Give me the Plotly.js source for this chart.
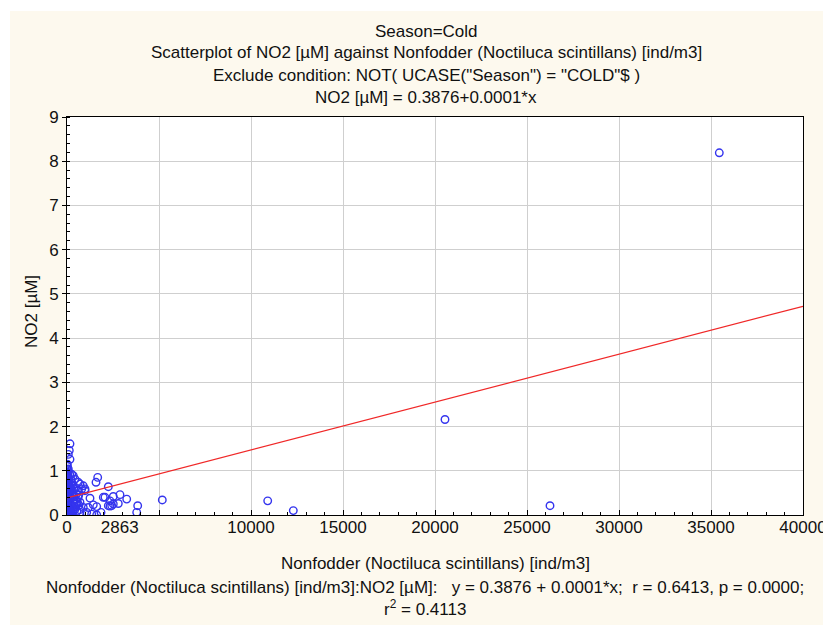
<!DOCTYPE html>
<html>
<head>
<meta charset="utf-8">
<script src="https://cdn.plot.ly/plotly-3.0.1.min.js"></script>
<style>html,body{margin:0;padding:0;background:#fff;}#chart{width:823px;height:625px;}</style>
</head>
<body>
<div id="chart"></div>
<script>
// Nonfodder (Noctiluca scintillans) [ind/m3]
const nonfodder = [
  20, 40, 60, 10, 80, 30, 120, 50, 90, 150, 200, 15, 70, 110, 250, 180, 35, 300, 55, 140,
  95, 220, 45, 160, 350, 25, 75, 130, 400, 65, 190, 105, 280, 85, 450, 230, 12, 170, 320, 48,
  30, 90, 150, 210, 60, 260, 110, 40, 330, 180,
  5, 18, 28, 8, 38, 22, 52, 14, 34, 100, 240, 380, 480, 520, 560, 420, 600, 650, 540, 470,
  360, 310, 270, 500, 580, 640, 690, 130, 210, 150,
  163, 125, 71, 163, 16, 71, 255, 342, 435, 614, 707, 886, 978, 799, 614, 978, 707, 886, 707, 1071, 1342, 1614,
  1250, 1429, 1158, 1668, 1576, 2245, 2065, 2516, 2880, 2337, 2429, 2245, 2788, 3245, 3788, 3842, 1614, 1848,
  1973, 2516, 2337, 5179, 10908, 12299, 26250, 20543, 35451
];
// NO2 [µM]
const no2 = [
  1.10, 1.02, 0.95, 0.88, 0.83, 0.78, 0.75, 0.70, 0.68, 0.65, 0.62, 0.60, 0.58, 0.55, 0.55, 0.52, 0.50, 0.48, 0.46, 0.44,
  0.42, 0.40, 0.38, 0.36, 0.35, 0.33, 0.31, 0.30, 0.28, 0.26, 0.25, 0.23, 0.21, 0.20, 0.18, 0.16, 0.14, 0.12, 0.10, 0.08,
  0.06, 0.05, 0.04, 0.03, 0.02, 0.02, 0.01, 0.00, 0.07, 0.12,
  0.97, 0.90, 0.72, 0.64, 0.57, 0.45, 0.35, 0.27, 0.15, 0.10, 0.05, 0.45, 0.62, 0.48, 0.30, 0.12, 0.40, 0.22, 0.08, 0.35,
  0.60, 0.68, 0.72, 0.25, 0.55, 0.45, 0.12, 0.50, 0.80, 0.92,
  1.61, 1.46, 1.37, 1.26, 1.15, 1.04, 0.92, 0.89, 0.81, 0.74, 0.70, 0.66, 0.59, 0.59, 0.55, 0.55, 0.29, 0.17, 0.06, 0.06, 0.02, 0.00,
  0.38, 0.23, 0.17, 0.85, 0.74, 0.64, 0.40, 0.42, 0.46, 0.32, 0.21, 0.21, 0.26, 0.36, 0.06, 0.21, 0.19, 0.06,
  0.40, 0.25, 0.20, 0.34, 0.32, 0.10, 0.21, 2.16, 8.19
];
// regression fit as drawn (intercept, slope) and its x extent
const fitIntercept = 0.3876;
const fitSlope = 0.0001083;
const fitX = [0, 40000];
const fitY = fitX.map(v => fitIntercept + fitSlope * v);

const xLabelVals = [0, 2863, 10000, 15000, 20000, 25000, 30000, 35000, 40000];
const xLabelText = ['0', '2863', '10000', '15000', '20000', '25000', '30000', '35000', '40000'];
const yTickVals = [0,1,2,3,4,5,6,7,8,9];

const titleLines = [
  'Season=Cold',
  'Scatterplot of NO2 [µM] against Nonfodder (Noctiluca scintillans) [ind/m3]',
  'Exclude condition: NOT( UCASE("Season") = "COLD"$ )',
  'NO2 [µM] = 0.3876+0.0001*x'
];
const xTitle = 'Nonfodder (Noctiluca scintillans) [ind/m3]';
const statLine = 'Nonfodder (Noctiluca scintillans) [ind/m3]:NO2 [µM]:   y = 0.3876 + 0.0001*x;  r = 0.6413, p = 0.0000;';
const r2Line = 'r<sup>2</sup> = 0.4113';
const yTitle = 'NO2 [µM]';

const FONT = 'Liberation Sans, Arial, sans-serif';
const TXT = '#111';
const FS = 17;

// pixel helpers for paper coords (plot area 67..803 x 117..515)
const L = 67, R = 803, T = 117, B = 515;
const px = x => (x - L) / (R - L);
const py = y => (B - y) / (B - T);

const traces = [
  {
    x: nonfodder, y: no2, type: 'scatter', mode: 'markers',
    marker: {symbol: 'circle-open', size: 7.5, color: '#3434ee', line: {width: 1.4, color: '#3434ee'}},
    hoverinfo: 'skip', showlegend: false
  },
  {
    x: fitX, y: fitY, type: 'scatter', mode: 'lines',
    line: {color: '#f02828', width: 1.2},
    hoverinfo: 'skip', showlegend: false
  },
  {
    x: [0], y: [0], xaxis: 'x2', type: 'scatter', mode: 'markers',
    marker: {size: 0.1, opacity: 0}, hoverinfo: 'skip', showlegend: false
  }
];

const annotations = [];
const titleY = [31, 53, 75, 97];
titleLines.forEach((t, i) => annotations.push({
  text: t, xref: 'paper', yref: 'paper', x: px(426), y: py(titleY[i]),
  xanchor: 'center', yanchor: 'middle', showarrow: false,
  font: {family: FONT, size: FS, color: TXT}
}));
annotations.push({text: xTitle, xref: 'paper', yref: 'paper', x: px(435), y: py(563),
  xanchor: 'center', yanchor: 'middle', showarrow: false, font: {family: FONT, size: FS, color: TXT}});
annotations.push({text: statLine, xref: 'paper', yref: 'paper', x: px(425), y: py(587),
  xanchor: 'center', yanchor: 'middle', showarrow: false, font: {family: FONT, size: FS, color: TXT}});
annotations.push({text: r2Line, xref: 'paper', yref: 'paper', x: px(425), y: py(608),
  xanchor: 'center', yanchor: 'middle', showarrow: false, font: {family: FONT, size: FS, color: TXT}});
annotations.push({text: yTitle, xref: 'paper', yref: 'paper', x: px(31), y: py(312), textangle: -90,
  xanchor: 'center', yanchor: 'middle', showarrow: false, font: {family: FONT, size: FS, color: TXT}});

const layout = {
  width: 823, height: 625,
  margin: {l: L, r: 823 - R, t: T, b: 625 - B, pad: 0},
  paper_bgcolor: '#fdf9ee',
  plot_bgcolor: '#ffffff',
  font: {family: FONT, size: FS, color: TXT},
  showlegend: false,
  xaxis: {
    range: [0, 40000], dtick: 5000, tick0: 0,
    showgrid: true, gridcolor: '#cfcfcf', gridwidth: 1,
    zeroline: false, showline: true, linecolor: '#000', linewidth: 1, mirror: true,
    ticks: 'inside', ticklen: 5, tickcolor: '#000', showticklabels: false,
    minor: {dtick: 1000, ticks: 'inside', ticklen: 3, tickcolor: '#000', showgrid: false}
  },
  xaxis2: {
    overlaying: 'x', side: 'bottom', range: [0, 40000],
    tickmode: 'array', tickvals: xLabelVals, ticktext: xLabelText,
    showgrid: false, zeroline: false, showline: false, ticks: '',
    ticklabeloverflow: 'allow',
    tickfont: {family: FONT, size: FS, color: TXT}
  },
  yaxis: {
    range: [0, 9], tickmode: 'array', tickvals: yTickVals,
    showgrid: true, gridcolor: '#cfcfcf', gridwidth: 1,
    zeroline: false, showline: true, linecolor: '#000', linewidth: 1, mirror: true,
    ticks: 'outside', ticklen: 4, tickcolor: '#000',
    tickfont: {family: FONT, size: FS, color: TXT},
    minor: {dtick: 0.2, ticks: 'inside', ticklen: 3, tickcolor: '#000', showgrid: false}
  },
  shapes: [
    {type: 'rect', xref: 'paper', yref: 'paper', layer: 'below',
     x0: px(-5), x1: px(830), y0: py(-5), y1: py(11), fillcolor: '#ffffff', line: {width: 0}},
    {type: 'rect', xref: 'paper', yref: 'paper', layer: 'below',
     x0: px(-5), x1: px(10), y0: py(-5), y1: py(630), fillcolor: '#ffffff', line: {width: 0}}
  ],
  annotations: annotations
};

Plotly.newPlot('chart', traces, layout, {staticPlot: true, displayModeBar: false});
</script>
</body>
</html>
